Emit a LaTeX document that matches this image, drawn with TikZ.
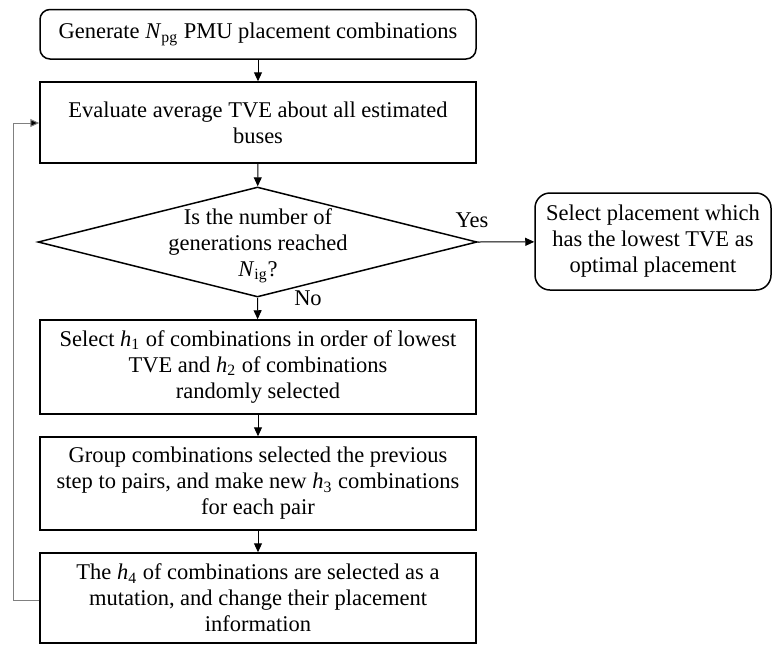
\documentclass[tikz,border=0pt]{standalone}
\usepackage{fontspec}
\setmainfont{Liberation Serif}
\usetikzlibrary{arrows.meta,shapes.geometric}

\newcommand{\ital}[2]{\textit{#1}\textsubscript{#2}}

\begin{document}
\begin{tikzpicture}[x=0.5pt,y=-0.5pt,
	font=\fontsize{11.25}{13}\selectfont,
	box/.style={draw=black,line width=0.75pt,inner sep=0pt,align=center,minimum width=218pt},
	roundbox/.style={box,rounded corners=5pt},
	decision/.style={draw=black,line width=0.75pt,shape=diamond,inner sep=0pt,minimum width=219.5pt,minimum height=55pt},
	flow/.style={draw=black,line width=0.5pt,-{Triangle[length=4.5pt,width=4pt]}},
	back/.style={draw=gray,line width=0.5pt,-{Triangle[length=4.5pt,width=4pt,fill=black]}}]
	\useasboundingbox (0,0) rectangle (772,644);
	% main column
	\node [roundbox,minimum height=24.75pt] (gen) at (258,34.25) {Generate \ital{N}{pg} PMU placement combinations};
	\node [box,minimum height=40.5pt] (eval) at (258,122.5) {Evaluate average TVE about all estimated\\buses};
	\node [decision] (check) at (257.5,242) {};
	\node [align=center] (checktext) at (258,246) {Is the number of\\generations reached\\\ital{N}{ig}?};
	\node [roundbox,rounded corners=7.5pt,minimum width=118pt,minimum height=48.5pt] (best) at (653,241.5) {Select placement which\\has the lowest TVE as\\optimal placement};
	\node [box,minimum height=47pt] (sel) at (258,367) {Select \ital{h}{1} of combinations in order of lowest\\TVE and \ital{h}{2} of combinations\\randomly selected};
	\node [box,minimum height=46.5pt] (cross) at (258,483.5) {Group combinations selected the previous\\step to pairs, and make new \ital{h}{3} combinations\\for each pair};
	\node [box,minimum height=45pt] (mut) at (258,598) {The \ital{h}{4} of combinations are selected as a\\mutation, and change their placement\\information};
	% labels
	\node (yes) at (472,220) {Yes};
	\node (no) at (308,298) {No};
	% arrows
	\draw [flow] (gen) -- (eval);
	\draw [flow] (eval) -- (check);
	\draw [flow] (check.east) -- (best);
	\draw [flow] (check.south) -- (sel);
	\draw [flow] (sel) -- (cross);
	\draw [flow] (cross) -- (mut);
	\draw [back] (mut.west |- 0,600) -- (13,600) -- (13,123) -- (eval.west |- 0,123);
\end{tikzpicture}
\end{document}
